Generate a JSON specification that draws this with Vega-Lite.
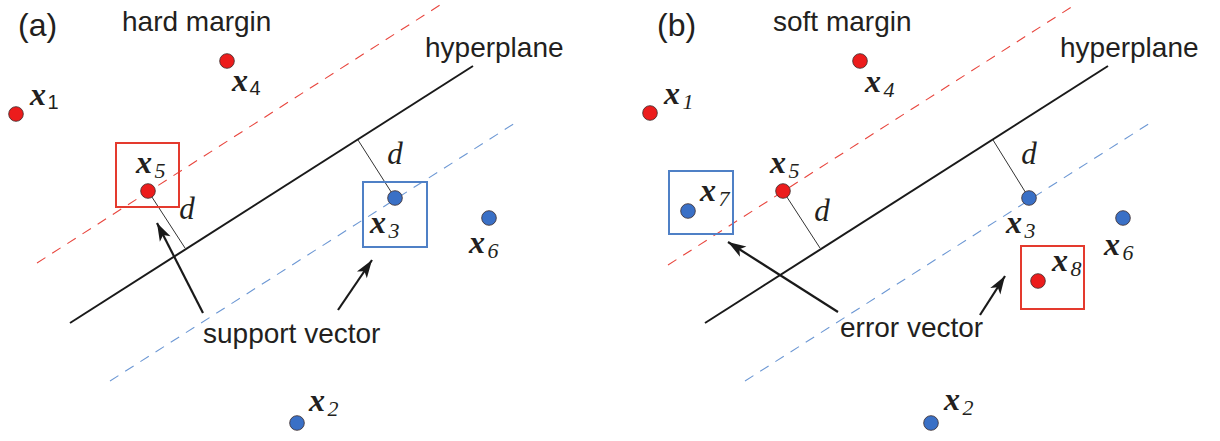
{
  "$schema": "https://vega.github.io/schema/vega-lite/v6.json",
  "width": 1220,
  "height": 441,
  "autosize": {"type": "none"},
  "padding": 0,
  "background": "white",
  "config": {"view": {"stroke": null}},
  "datasets": {
    "points": [
      {"panel": "a", "name": "x1", "x": 16, "y": 114, "class": "pos"},
      {"panel": "a", "name": "x4", "x": 227, "y": 61, "class": "pos"},
      {"panel": "a", "name": "x5", "x": 148, "y": 191, "class": "pos"},
      {"panel": "a", "name": "x3", "x": 395, "y": 198, "class": "neg"},
      {"panel": "a", "name": "x6", "x": 489, "y": 218, "class": "neg"},
      {"panel": "a", "name": "x2", "x": 297, "y": 423, "class": "neg"},
      {"panel": "b", "name": "x1", "x": 650, "y": 113, "class": "pos"},
      {"panel": "b", "name": "x4", "x": 860, "y": 61, "class": "pos"},
      {"panel": "b", "name": "x5", "x": 783, "y": 191, "class": "pos"},
      {"panel": "b", "name": "x8", "x": 1038, "y": 281, "class": "pos"},
      {"panel": "b", "name": "x7", "x": 688, "y": 211, "class": "neg"},
      {"panel": "b", "name": "x3", "x": 1029, "y": 198, "class": "neg"},
      {"panel": "b", "name": "x6", "x": 1123, "y": 218, "class": "neg"},
      {"panel": "b", "name": "x2", "x": 931, "y": 423, "class": "neg"}
    ],
    "labels": [
      {"panel": "a", "digit": "1", "x": 38, "y": 97},
      {"panel": "a", "digit": "4", "x": 240, "y": 83},
      {"panel": "a", "digit": "5", "x": 144, "y": 165},
      {"panel": "a", "digit": "3", "x": 378, "y": 225},
      {"panel": "a", "digit": "6", "x": 477, "y": 245},
      {"panel": "a", "digit": "2", "x": 317, "y": 403},
      {"panel": "b", "digit": "1", "x": 672, "y": 96},
      {"panel": "b", "digit": "4", "x": 873, "y": 84},
      {"panel": "b", "digit": "5", "x": 778, "y": 165},
      {"panel": "b", "digit": "7", "x": 708, "y": 193},
      {"panel": "b", "digit": "3", "x": 1014, "y": 225},
      {"panel": "b", "digit": "6", "x": 1112, "y": 247},
      {"panel": "b", "digit": "8", "x": 1060, "y": 263},
      {"panel": "b", "digit": "2", "x": 952, "y": 402}
    ],
    "lines": [
      {"panel": "a", "kind": "hyperplane", "x": 70, "y": 323, "x2": 473, "y2": 66},
      {"panel": "b", "kind": "hyperplane", "x": 705, "y": 323, "x2": 1108, "y2": 66},
      {"panel": "a", "kind": "marginPos", "x": 37, "y": 263, "x2": 440, "y2": 5},
      {"panel": "b", "kind": "marginPos", "x": 668, "y": 265, "x2": 1073, "y2": 6},
      {"panel": "a", "kind": "marginNeg", "x": 110, "y": 381, "x2": 515, "y2": 123},
      {"panel": "b", "kind": "marginNeg", "x": 745, "y": 381, "x2": 1150, "y2": 123},
      {"panel": "a", "kind": "distance", "x": 148, "y": 191, "x2": 185, "y2": 248},
      {"panel": "a", "kind": "distance", "x": 395, "y": 198, "x2": 358, "y2": 140},
      {"panel": "b", "kind": "distance", "x": 783, "y": 191, "x2": 820, "y2": 248},
      {"panel": "b", "kind": "distance", "x": 1029, "y": 198, "x2": 993, "y2": 140}
    ],
    "boxes": [
      {"panel": "a", "name": "x5", "class": "pos", "x": 116, "y": 143, "x2": 179, "y2": 207},
      {"panel": "a", "name": "x3", "class": "neg", "x": 363, "y": 182, "x2": 427, "y2": 247},
      {"panel": "b", "name": "x7", "class": "neg", "x": 669, "y": 171, "x2": 733, "y2": 234},
      {"panel": "b", "name": "x8", "class": "pos", "x": 1021, "y": 246, "x2": 1084, "y2": 309}
    ],
    "arrows": [
      {"panel": "a", "x": 203, "y": 313, "tx": 157, "ty": 223},
      {"panel": "a", "x": 338, "y": 310, "tx": 372, "ty": 260},
      {"panel": "b", "x": 838, "y": 312, "tx": 728, "ty": 242},
      {"panel": "b", "x": 980, "y": 315, "tx": 1005, "ty": 276}
    ],
    "titles": [
      {"text": "(a)", "x": 18, "y": 36},
      {"text": "(b)", "x": 657, "y": 36}
    ],
    "captions": [
      {"text": "hard margin", "x": 122, "y": 31},
      {"text": "soft margin", "x": 773, "y": 31},
      {"text": "hyperplane", "x": 425, "y": 57},
      {"text": "hyperplane", "x": 1060, "y": 57},
      {"text": "support vector", "x": 203, "y": 343},
      {"text": "error vector", "x": 840, "y": 337}
    ],
    "dists": [
      {"text": "d", "x": 187, "y": 210},
      {"text": "d", "x": 395, "y": 155},
      {"text": "d", "x": 822, "y": 212},
      {"text": "d", "x": 1029, "y": 155}
    ]
  },
  "layer": [
    {
      "data": {"name": "lines"},
      "transform": [{"filter": "datum.kind == 'marginPos'"}],
      "mark": {"type": "rule", "color": "#e8463e", "strokeWidth": 1.1, "strokeDash": [10, 8]},
      "encoding": {
        "x": {"field": "x", "type": "quantitative", "scale": {"domain": [0, 1220], "nice": false, "zero": false}, "axis": null},
        "y": {"field": "y", "type": "quantitative", "scale": {"domain": [0, 441], "reverse": true, "nice": false, "zero": false}, "axis": null},
        "x2": {"field": "x2"},
        "y2": {"field": "y2"}
      }
    },
    {
      "data": {"name": "lines"},
      "transform": [{"filter": "datum.kind == 'marginNeg'"}],
      "mark": {"type": "rule", "color": "#6d98d4", "strokeWidth": 1.1, "strokeDash": [10, 8]},
      "encoding": {
        "x": {"field": "x", "type": "quantitative", "scale": {"domain": [0, 1220], "nice": false, "zero": false}, "axis": null},
        "y": {"field": "y", "type": "quantitative", "scale": {"domain": [0, 441], "reverse": true, "nice": false, "zero": false}, "axis": null},
        "x2": {"field": "x2"},
        "y2": {"field": "y2"}
      }
    },
    {
      "data": {"name": "lines"},
      "transform": [{"filter": "datum.kind == 'hyperplane'"}],
      "mark": {"type": "rule", "color": "#1a1a1a", "strokeWidth": 2},
      "encoding": {
        "x": {"field": "x", "type": "quantitative", "scale": {"domain": [0, 1220], "nice": false, "zero": false}, "axis": null},
        "y": {"field": "y", "type": "quantitative", "scale": {"domain": [0, 441], "reverse": true, "nice": false, "zero": false}, "axis": null},
        "x2": {"field": "x2"},
        "y2": {"field": "y2"}
      }
    },
    {
      "data": {"name": "lines"},
      "transform": [{"filter": "datum.kind == 'distance'"}],
      "mark": {"type": "rule", "color": "#333333", "strokeWidth": 1},
      "encoding": {
        "x": {"field": "x", "type": "quantitative", "scale": {"domain": [0, 1220], "nice": false, "zero": false}, "axis": null},
        "y": {"field": "y", "type": "quantitative", "scale": {"domain": [0, 441], "reverse": true, "nice": false, "zero": false}, "axis": null},
        "x2": {"field": "x2"},
        "y2": {"field": "y2"}
      }
    },
    {
      "data": {"name": "boxes"},
      "mark": {"type": "rect", "fill": null, "fillOpacity": 0, "strokeWidth": 2},
      "encoding": {
        "x": {"field": "x", "type": "quantitative", "scale": {"domain": [0, 1220], "nice": false, "zero": false}, "axis": null},
        "y": {"field": "y", "type": "quantitative", "scale": {"domain": [0, 441], "reverse": true, "nice": false, "zero": false}, "axis": null},
        "x2": {"field": "x2"},
        "y2": {"field": "y2"},
        "stroke": {"field": "class", "type": "nominal", "scale": {"domain": ["pos", "neg"], "range": ["#e43a2e", "#4f80c6"]}, "legend": null}
      }
    },
    {
      "data": {"name": "arrows"},
      "mark": {"type": "rule", "color": "#1a1a1a", "strokeWidth": 2.2},
      "encoding": {
        "x": {"field": "x", "type": "quantitative", "scale": {"domain": [0, 1220], "nice": false, "zero": false}, "axis": null},
        "y": {"field": "y", "type": "quantitative", "scale": {"domain": [0, 441], "reverse": true, "nice": false, "zero": false}, "axis": null},
        "x2": {"field": "tx"},
        "y2": {"field": "ty"}
      }
    },
    {
      "data": {"name": "arrows"},
      "transform": [{"calculate": "atan2(datum.tx - datum.x, datum.y - datum.ty) * 180 / PI", "as": "angle"}],
      "mark": {"type": "point", "shape": "M0,0L-0.6,1.8L0,1.35L0.6,1.8Z", "filled": true, "color": "#1a1a1a", "opacity": 1, "size": 400, "strokeWidth": 0},
      "encoding": {
        "x": {"field": "tx", "type": "quantitative", "scale": {"domain": [0, 1220], "nice": false, "zero": false}, "axis": null},
        "y": {"field": "ty", "type": "quantitative", "scale": {"domain": [0, 441], "reverse": true, "nice": false, "zero": false}, "axis": null},
        "angle": {"field": "angle", "type": "quantitative", "scale": null}
      }
    },
    {
      "data": {"name": "points"},
      "mark": {"type": "circle", "size": 215, "opacity": 1, "stroke": "#3b2b2b", "strokeWidth": 0.8},
      "encoding": {
        "x": {"field": "x", "type": "quantitative", "scale": {"domain": [0, 1220], "nice": false, "zero": false}, "axis": null},
        "y": {"field": "y", "type": "quantitative", "scale": {"domain": [0, 441], "reverse": true, "nice": false, "zero": false}, "axis": null},
        "color": {"field": "class", "type": "nominal", "scale": {"domain": ["pos", "neg"], "range": ["#ec1c1c", "#3a70c6"]}, "legend": null}
      }
    },
    {
      "data": {"name": "labels"},
      "mark": {"type": "text", "text": "x", "font": "Liberation Serif", "fontStyle": "italic", "fontWeight": "bold", "fontSize": 32, "align": "center", "baseline": "middle", "dy": -2, "color": "#231f20"},
      "encoding": {
        "x": {"field": "x", "type": "quantitative", "scale": {"domain": [0, 1220], "nice": false, "zero": false}, "axis": null},
        "y": {"field": "y", "type": "quantitative", "scale": {"domain": [0, 441], "reverse": true, "nice": false, "zero": false}, "axis": null}
      }
    },
    {
      "data": {"name": "labels"},
      "transform": [{"filter": "datum.panel == 'a' && (datum.digit == '1' || datum.digit == '4')"}],
      "mark": {"type": "text", "font": "Liberation Sans", "fontSize": 20, "align": "center", "baseline": "middle", "dx": 15, "dy": 6, "color": "#231f20"},
      "encoding": {
        "x": {"field": "x", "type": "quantitative", "scale": {"domain": [0, 1220], "nice": false, "zero": false}, "axis": null},
        "y": {"field": "y", "type": "quantitative", "scale": {"domain": [0, 441], "reverse": true, "nice": false, "zero": false}, "axis": null},
        "text": {"field": "digit"}
      }
    },
    {
      "data": {"name": "labels"},
      "transform": [{"filter": "!(datum.panel == 'a' && (datum.digit == '1' || datum.digit == '4'))"}],
      "mark": {"type": "text", "font": "Liberation Serif", "fontStyle": "italic", "fontSize": 22, "align": "center", "baseline": "middle", "dx": 16, "dy": 6, "color": "#231f20"},
      "encoding": {
        "x": {"field": "x", "type": "quantitative", "scale": {"domain": [0, 1220], "nice": false, "zero": false}, "axis": null},
        "y": {"field": "y", "type": "quantitative", "scale": {"domain": [0, 441], "reverse": true, "nice": false, "zero": false}, "axis": null},
        "text": {"field": "digit"}
      }
    },
    {
      "data": {"name": "dists"},
      "mark": {"type": "text", "font": "Liberation Serif", "fontStyle": "italic", "fontSize": 31, "align": "center", "baseline": "middle", "color": "#231f20"},
      "encoding": {
        "x": {"field": "x", "type": "quantitative", "scale": {"domain": [0, 1220], "nice": false, "zero": false}, "axis": null},
        "y": {"field": "y", "type": "quantitative", "scale": {"domain": [0, 441], "reverse": true, "nice": false, "zero": false}, "axis": null},
        "text": {"field": "text"}
      }
    },
    {
      "data": {"name": "titles"},
      "mark": {"type": "text", "font": "Liberation Sans", "fontSize": 32, "align": "left", "baseline": "alphabetic", "color": "#231f20"},
      "encoding": {
        "x": {"field": "x", "type": "quantitative", "scale": {"domain": [0, 1220], "nice": false, "zero": false}, "axis": null},
        "y": {"field": "y", "type": "quantitative", "scale": {"domain": [0, 441], "reverse": true, "nice": false, "zero": false}, "axis": null},
        "text": {"field": "text"}
      }
    },
    {
      "data": {"name": "captions"},
      "mark": {"type": "text", "font": "Liberation Sans", "fontSize": 28, "align": "left", "baseline": "alphabetic", "color": "#231f20"},
      "encoding": {
        "x": {"field": "x", "type": "quantitative", "scale": {"domain": [0, 1220], "nice": false, "zero": false}, "axis": null},
        "y": {"field": "y", "type": "quantitative", "scale": {"domain": [0, 441], "reverse": true, "nice": false, "zero": false}, "axis": null},
        "text": {"field": "text"}
      }
    }
  ]
}
